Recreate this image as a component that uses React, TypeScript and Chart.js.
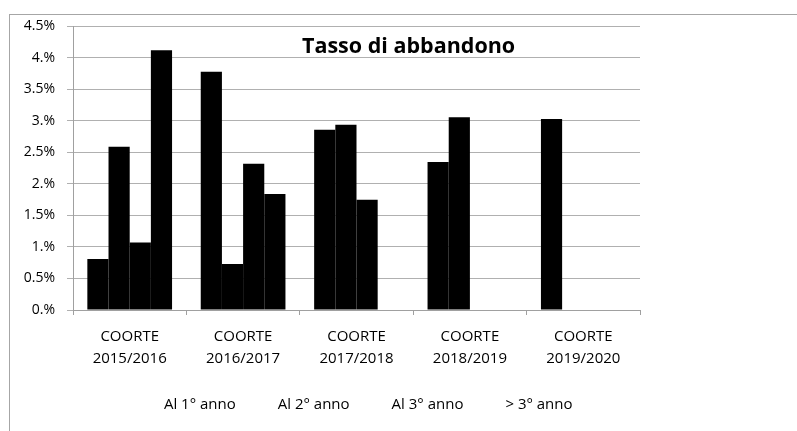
import React, { useEffect, useRef } from "react";
import { Chart, registerables } from "chart.js";

Chart.register(...registerables);

const chartTitle = "Tasso di abbandono";
const categories: string[][] = [
  ["COORTE", "2015/2016"],
  ["COORTE", "2016/2017"],
  ["COORTE", "2017/2018"],
  ["COORTE", "2018/2019"],
  ["COORTE", "2019/2020"],
];
const seriesNames = ["Al 1° anno", "Al 2° anno", "Al 3° anno", "> 3° anno"];
const firstYear: (number | null)[] = [0.81, 3.78, 2.86, 2.35, 3.03];
const secondYear: (number | null)[] = [2.59, 0.73, 2.94, 3.06, null];
const thirdYear: (number | null)[] = [1.07, 2.32, 1.75, null, null];
const beyondThird: (number | null)[] = [4.12, 1.84, null, null, null];
const yMin = 0;
const yMax = 4.5;
const yStep = 0.5;

const seriesValues = [firstYear, secondYear, thirdYear, beyondThird];

function formatPct(v: number): string {
  const r = Math.round(v * 10) / 10;
  return Number.isInteger(r) ? `${r}.%` : `${r}%`;
}

export default function App() {
  const canvasRef = useRef<HTMLCanvasElement>(null);

  useEffect(() => {
    if (!canvasRef.current) return;
    Chart.defaults.font.family = "'Open Sans', sans-serif";
    const chart = new Chart(canvasRef.current, {
      type: "bar",
      data: {
        labels: categories,
        datasets: seriesNames.map((name, i) => ({
          label: name,
          data: seriesValues[i],
          backgroundColor: "#000000",
          borderWidth: 0,
          yAxisID: "y",
        })),
      },
      options: {
        animation: false,
        responsive: true,
        maintainAspectRatio: false,
        layout: { padding: { top: 0, left: 0, right: 0, bottom: 8.5 } },
        datasets: { bar: { categoryPercentage: 0.747, barPercentage: 1 } },
        scales: {
          x: {
            grid: {
              drawOnChartArea: false,
              drawTicks: true,
              tickLength: 5,
              color: "#a0a0a0",
              offset: true,
            },
            border: { color: "#a0a0a0" },
            ticks: {
              font: { size: 15, lineHeight: 1.5 },
              color: "#000000",
              padding: 10,
              maxRotation: 0,
              autoSkip: false,
            },
          },
          y: {
            min: yMin,
            max: yMax,
            ticks: {
              stepSize: yStep,
              font: { size: 14 },
              color: "#000000",
              padding: 12,
              callback: (v: any) => formatPct(Number(v)),
            },
            grid: { color: "#b0b0b0", tickLength: 6 },
            border: { color: "#a0a0a0" },
            afterFit: (s: any) => {
              s.width = 63;
            },
          },
          y2: {
            position: "right",
            grid: { display: false },
            border: { display: false },
            ticks: { display: false },
            afterFit: (s: any) => {
              s.width = 62;
            },
          },
        },
        plugins: {
          title: { display: false },
          tooltip: { enabled: false },
          legend: {
            position: "bottom",
            labels: {
              font: { size: 15 },
              color: "#000000",
              boxWidth: 17,
              padding: 17.5,
              generateLabels: (c: any) =>
                Chart.defaults.plugins.legend.labels
                  .generateLabels(c)
                  .map((l: any) => ({
                    ...l,
                    fillStyle: "rgba(0,0,0,0)",
                    strokeStyle: "rgba(0,0,0,0)",
                    lineWidth: 0,
                  })),
            },
          },
        },
      } as any,
    });
    return () => chart.destroy();
  }, []);

  return (
    <div
      style={{
        position: "fixed",
        left: 0,
        top: 0,
        width: 797,
        height: 431,
        overflow: "hidden",
        background: "#ffffff",
      }}
    >
      <div
        style={{
          position: "absolute",
          left: 9,
          top: 14,
          width: 900,
          height: 500,
          border: "1px solid #a6a6a6",
          boxSizing: "border-box",
        }}
      />
      <div style={{ position: "absolute", left: 10, top: 6, width: 692, height: 425 }}>
        <canvas ref={canvasRef} />
      </div>
      <div
        style={{
          position: "absolute",
          left: 302,
          top: 34,
          fontFamily: "'Open Sans', sans-serif",
          fontWeight: 700,
          fontSize: 21.5,
          lineHeight: 1,
          color: "#000000",
          whiteSpace: "nowrap",
        }}
      >
        {chartTitle}
      </div>
    </div>
  );
}
